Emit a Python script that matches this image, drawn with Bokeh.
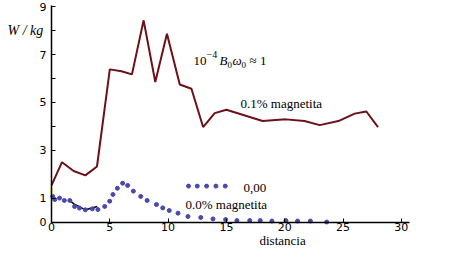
from bokeh.plotting import figure
from bokeh.models import Range1d, FixedTicker, Label, LinearAxis
from bokeh.embed import file_html
from bokeh.resources import INLINE

# 0.1% magnetita (maroon line)
x_mag01 = [0, 0.9, 1.9, 2.9, 3.9, 5.0, 6.0, 6.9, 7.9, 8.9, 9.9, 11.0, 12.0, 13.0,
           14.0, 15.0, 18.1, 20.1, 21.7, 23.0, 24.6, 26.0, 27.0, 28.0]
y_mag01 = [1.53, 2.5, 2.13, 1.95, 2.32, 6.38, 6.3, 6.17, 8.43, 5.85, 7.87, 5.75, 5.57, 3.97,
           4.55, 4.69, 4.22, 4.29, 4.22, 4.05, 4.22, 4.53, 4.62, 3.97]

# 0.0% magnetita (blue dots)
x_mag00 = [0.1, 0.28, 0.69, 1.1, 1.57, 1.98, 2.4, 2.9, 3.5, 3.98, 4.56, 4.99, 5.27, 5.65,
           6.1, 6.53, 7.02, 7.65, 8.2, 9.0, 9.54, 10.1, 10.85, 11.7, 12.8, 13.85, 14.93,
           15.9, 17.0, 17.9, 18.9, 20.1, 21.1, 22.2, 23.6]
y_mag00 = [1.07, 0.94, 1.0, 0.9, 0.9, 0.65, 0.58, 0.51, 0.55, 0.52, 0.65, 0.87, 1.15, 1.41,
           1.62, 1.53, 1.29, 1.07, 0.9, 0.73, 0.59, 0.48, 0.37, 0.23, 0.19, 0.13, 0.1,
           0.06, 0.06, 0.06, 0.04, 0.06, 0.04, 0.04, 0.0]

# black segment
x_black = [1.57, 1.92, 2.92, 3.93]
y_black = [0.9, 0.76, 0.51, 0.65]

# legend sample dots ("0,00")
x_leg = [11.75, 12.5, 13.3, 14.1, 14.9]
y_leg = [1.5, 1.5, 1.5, 1.5, 1.5]

x_ticks = [0, 5, 10, 15, 20, 25, 30]
y_ticks = [0, 1, 3, 5, 7, 9]
y_minor = [4, 6, 8]

MAROON = "#6E1018"
BLUE = "#4848AE"

W, H = 456, 257
ORIG_X, ORIG_Y = 51, 221.5        # page pixel of data origin
PX_X = 358 / 30.7                 # pixels per x unit
PX_Y = 216.5 / 9.05               # pixels per y unit

p = figure(width=W, height=H, output_backend="svg", toolbar_location=None,
           x_range=Range1d(-ORIG_X / PX_X, (W - ORIG_X) / PX_X),
           y_range=Range1d((ORIG_Y - H) / PX_Y, ORIG_Y / PX_Y),
           x_axis_location=None, y_axis_location=None, min_border=0)
p.outline_line_color = None
p.background_fill_color = "white"
p.border_fill_color = "white"
p.xgrid.visible = False
p.ygrid.visible = False

xaxis = LinearAxis(fixed_location=0, bounds=(0, 30.7),
                   ticker=FixedTicker(ticks=x_ticks, minor_ticks=[]))
yaxis = LinearAxis(fixed_location=0, bounds=(0, 9.05),
                   ticker=FixedTicker(ticks=y_ticks, minor_ticks=y_minor))
for ax in (xaxis, yaxis):
    ax.axis_line_color = "black"
    ax.axis_line_width = 1.5
    ax.major_tick_in = 4
    ax.major_tick_out = 0
    ax.minor_tick_in = 4
    ax.minor_tick_out = 0
    ax.major_tick_line_color = "black"
    ax.minor_tick_line_color = "black"
    ax.major_label_text_font = "DejaVu Sans"
    ax.major_label_text_font_size = "11px"
    ax.major_label_text_color = "black"
xaxis.major_label_standoff = 1
yaxis.major_label_standoff = 5
p.add_layout(xaxis, "below")
p.add_layout(yaxis, "left")

p.line(x_mag01, y_mag01, line_color=MAROON, line_width=2)
p.line(x_black, y_black, line_color="black", line_width=1.5)
p.scatter(x_mag00, y_mag00, size=4, fill_color=BLUE, line_color=BLUE)
p.scatter(x_leg, y_leg, size=4, fill_color=BLUE, line_color=BLUE)
p.line([0, 0], [1.15, 1.42], line_color="#F2E600", line_width=2)


def lab(text, px, py, size="13px", style="normal"):
    # px, py: page pixel position from top-left
    p.add_layout(Label(x=px, y=H - py, x_units="screen", y_units="screen", text=text,
                       text_font="Liberation Serif", text_font_size=size,
                       text_font_style=style, text_color="black",
                       text_align="left", text_baseline="middle"))


lab("W / kg", 7, 30, size="14px", style="italic")
lab("distancia", 259, 240)
lab("0.1% magnetita", 240, 103)
lab("0.0% magnetita", 185, 204)
lab("0,00", 243, 187)

# 10^-4 B0 w0 ≈ 1
lab("10", 193, 60)
lab("\u22124", 206, 54, size="10px")
lab("B", 219, 60, style="italic")
lab("0", 227, 64, size="9px")
lab("\u03c9", 232, 60, style="italic")
lab("0", 241, 64, size="9px")
lab("\u2248 1", 249, 60)

open("out.html", "w").write(file_html(p, INLINE))
